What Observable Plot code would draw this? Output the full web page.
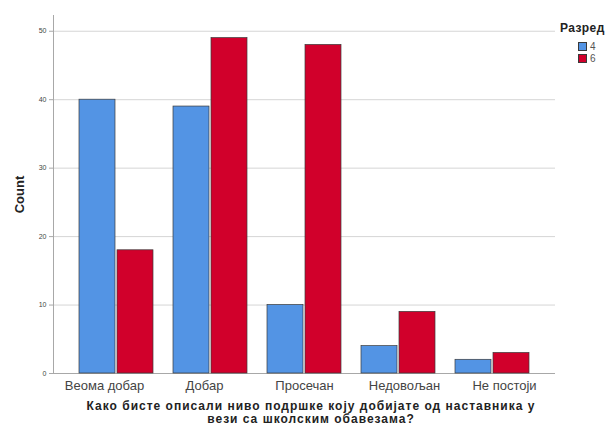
<!DOCTYPE html>
<html>
<head>
<meta charset="utf-8">
<script src="https://cdn.jsdelivr.net/npm/d3@7"></script>
<script src="https://cdn.jsdelivr.net/npm/@observablehq/plot@0.6"></script>
<style>
  body { margin: 0; background: #fff; font-family: "Liberation Sans", Arial, sans-serif; }
  #wrap { position: relative; width: 612px; height: 434px; overflow: hidden; }
  #base, #bars { position: absolute; left: 0; top: 0; }
  g[aria-label="y-axis label"] text { font-weight: bold; font-size: 13px; fill: #222; }
  #xtitle { position: absolute; left: 0; top: 400px; width: 612px; padding-left: 10px; box-sizing: border-box;
    text-align: center; font-weight: bold; font-size: 12px; letter-spacing: 1px; line-height: 13px; color: #222; }
  #legend { position: absolute; left: 560px; top: 21px; font-size: 10px; color: #555; }
  #legend .title { font-weight: bold; font-size: 12px; letter-spacing: 0.4px; color: #222; margin-bottom: 5px; white-space: nowrap; }
  #legend .item { display: flex; align-items: center; height: 12.5px; margin-left: 18px; }
  #legend .sw { width: 9px; height: 9px; border: 0.7px solid #3a3a3a; margin-right: 3px; box-sizing: border-box; }
</style>
</head>
<body>
<div id="wrap">
  <div id="base"></div>
  <div id="bars"></div>
  <div id="xtitle"></div>
  <div id="legend"></div>
</div>
<script>
const categories = ["Веома добар", "Добар", "Просечан", "Недовољан", "Не постоји"];
const grades = ["4", "6"];
const values4 = [40, 39, 10, 4, 2];
const values6 = [18, 49, 48, 9, 3];
const yTicks = [0, 10, 20, 30, 40, 50];
const colors = ["#5394e4", "#d1002b"];
const xTitle = ["Како бисте описали ниво подршке коју добијате од наставника у", "вези са школским обавезама?"];
const legendTitle = "Разред";
const yLabel = "Count";

const data = [];
categories.forEach((c, i) => {
  data.push({cat: c, grade: grades[0], value: values4[i]});
  data.push({cat: c, grade: grades[1], value: values6[i]});
});

const common = {
  width: 612,
  height: 392,
  marginLeft: 53,
  marginRight: 57,
  marginTop: 15,
  marginBottom: 19,
  style: {fontFamily: "'Liberation Sans', Arial, sans-serif", background: "transparent", color: "#444", overflow: "visible"}
};
const band = {domain: categories, paddingInner: 0.19, paddingOuter: 0.265};

const base = Plot.plot({
  ...common,
  y: {domain: [0, 52.3], label: null},
  x: {...band, label: null},
  marks: [
    Plot.gridY(yTicks, {stroke: "#d6d6d6", strokeOpacity: 1, strokeWidth: 1}),
    Plot.ruleY([0], {stroke: "#a8a8a8"}),
    Plot.frame({anchor: "left", stroke: "#a8a8a8"}),
    Plot.axisY(yTicks, {anchor: "left", tickSize: 4, tickPadding: 3, fontSize: 7, stroke: "#a8a8a8",
      label: yLabel, labelAnchor: "center", labelOffset: 39, tickFormat: d => d}),
    Plot.axisX({anchor: "bottom", tickSize: 0, tickPadding: 7, fontSize: 13, label: null})
  ]
});
base.querySelectorAll("text").forEach(t => {
  if (t.textContent.includes(yLabel) && t.textContent !== yLabel) t.textContent = yLabel;
});
document.getElementById("base").appendChild(base);

const bars = Plot.plot({
  ...common,
  y: {domain: [0, 52.3], axis: null},
  fx: {...band, label: null, axis: null},
  x: {domain: grades, axis: null, paddingInner: 0.04, paddingOuter: 0},
  color: {domain: grades, range: colors},
  marks: [
    Plot.barY(data, {fx: "cat", x: "grade", y: "value", fill: "grade", stroke: "#3a3a3a", strokeWidth: 0.7})
  ]
});
document.getElementById("bars").appendChild(bars);

document.getElementById("xtitle").innerHTML = xTitle.map(s => `<div>${s}</div>`).join("");

const lg = document.getElementById("legend");
lg.innerHTML = `<div class="title">${legendTitle}</div>` +
  grades.map((g, i) => `<div class="item"><div class="sw" style="background:${colors[i]}"></div><span>${g}</span></div>`).join("");
</script>
</body>
</html>
